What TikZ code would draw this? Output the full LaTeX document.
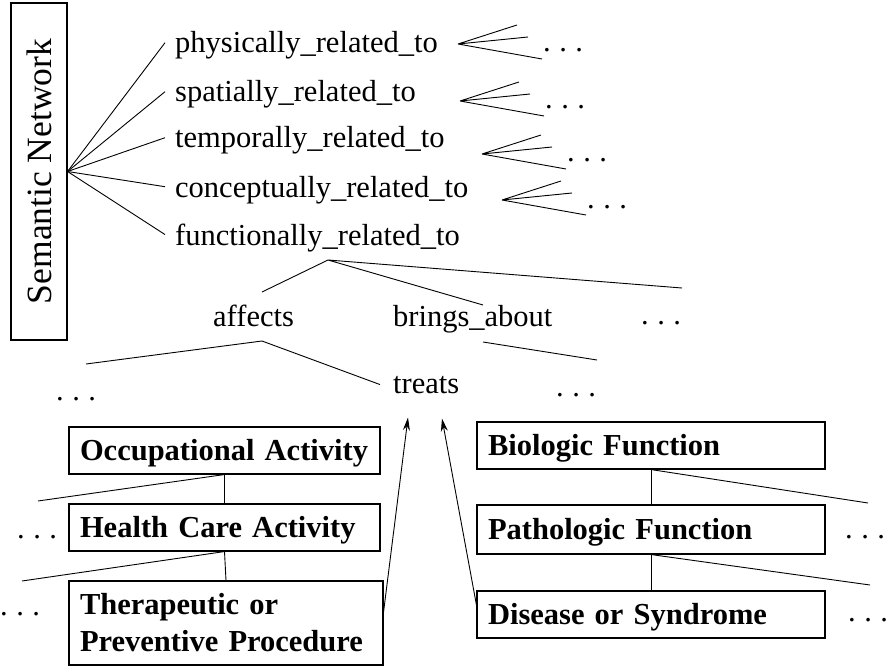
\documentclass[tikz,border=0pt]{standalone}
\usepackage{fontspec}
\setmainfont{Liberation Serif}
\usetikzlibrary{arrows.meta,calc}
\newcommand\dts{.\kern8.5pt.\kern8.5pt.}
\begin{document}
\begin{tikzpicture}[x=1pt,y=-1pt,
  every node/.style={inner sep=0pt},
  rel/.style={anchor=base west, font=\fontsize{30.5}{37}\selectfont},
  dotsn/.style={anchor=base west, font=\fontsize{30.5}{37}\selectfont},
  boxbase/.style={draw, line width=1.1pt, font=\bfseries\fontsize{30.5}{37}\selectfont, inner xsep=11pt, inner ysep=0pt, align=left},
  box/.style={boxbase, text height=21pt, text depth=2pt},
  ln/.style={line width=0.9pt},
  arr/.style={line width=0.9pt, -{Stealth[length=13pt,width=7pt]}}
]
\useasboundingbox (0,0) rectangle (887,666);

% Semantic network box
\node[draw, line width=1.1pt, rotate=90, minimum width=337pt, minimum height=56pt,
      font=\fontsize{35.5}{40}\selectfont] (sn) at (39,171.5) {Semantic Network};

% relations
\node[rel] (phys) at (175,53) {physically\_related\_to};
\node[rel] (spat) at (175,102) {spatially\_related\_to};
\node[rel] (temp) at (175,148) {temporally\_related\_to};
\node[rel] (conc) at (175,197) {conceptually\_related\_to};
\node[rel] (func) at (175,245) {functionally\_related\_to};
\foreach \n in {phys,spat,temp,conc,func}
  \draw[ln] (sn.south) -- ([xshift=-10pt,yshift=3pt]\n.west);

% small fans with dots
\foreach \nm/\x/\y in {fa/458/44, fb/460/101, fc/482/154, fd/502/200} {
  \coordinate (\nm) at (\x,\y);
  \draw[ln] (\nm) -- ++(59,-19) (\nm) -- ++(70,-7) (\nm) -- ++(84,15);
  \node[dotsn] (d\nm) at ($(\nm)+(85,8)$) {\dts};
}

% second level
\node[rel] (aff) at (213,326) {affects};
\node[rel] (bri) at (393,326) {brings\_about};
\node[dotsn] (dfn) at (641,324) {\dts};
\coordinate (fA) at (328,260);
\coordinate (fA1) at (262,292);
\coordinate (fA2) at (483,305);
\coordinate (fA3) at (682,288);
\draw[ln] (fA1) -- (fA) -- (fA2) (fA) -- (fA3);

% third level
\node[rel] (tre) at (393,393) {treats};
\node[dotsn] (daf) at (56,400) {\dts};
\node[dotsn] (dbr) at (556,396) {\dts};
\coordinate (aA) at (262,341);
\coordinate (aA1) at (86,364);
\draw[ln] (aA1) -- (aA) -- ([xshift=-13pt]tre.west);
\coordinate (bA) at (483,342);
\coordinate (bA1) at (597,360);
\draw[ln] (bA) -- (bA1);

% left boxes
\node[box, text width=289pt, minimum height=47pt] (occ) at (224.5,450.5) {Occupational~Activity};
\node[box, text width=289pt, minimum height=47pt] (hc) at (224.5,527.5) {Health~Care~Activity};
\node[boxbase, text width=292pt, minimum height=84pt] (th) at (226,623) {Therapeutic or\\Preventive~Procedure};
\node[dotsn] (dhc) at (17,538) {\dts};
\node[dotsn] (dth) at (0,615) {\dts};
\coordinate (occL) at (38,501);
\coordinate (hcL) at (22,581);
\draw[ln] (occ.south) -- (hc.north);
\draw[ln] (occ.south) -- (occL);
\draw[ln] (hc.south) -- (th.north);
\draw[ln] (hc.south) -- (hcL);

% right boxes
\node[box, text width=326pt, minimum height=47pt] (bio) at (651,445.5) {Biologic~Function};
\node[box, text width=326pt, minimum height=49pt] (pat) at (651,529.5) {Pathologic~Function};
\node[box, text width=326pt, minimum height=47pt] (dis) at (651,614.5) {Disease~or~Syndrome};
\node[dotsn] (dpa) at (845,538) {\dts};
\node[dotsn] (ddi) at (848,621) {\dts};
\coordinate (bioR) at (868,503);
\coordinate (patR) at (870,585);
\draw[ln] (bio.south) -- (pat.north);
\draw[ln] (bio.south) -- (bioR);
\draw[ln] (pat.south) -- (dis.north);
\draw[ln] (pat.south) -- (patR);

% arrows to treats
\draw[arr] ([yshift=11pt]th.east) -- ([xshift=15pt,yshift=-24pt]tre.south west);
\draw[arr] ([yshift=9.5pt]dis.west) -- ([xshift=49pt,yshift=-25pt]tre.south west);
\end{tikzpicture}
\end{document}
